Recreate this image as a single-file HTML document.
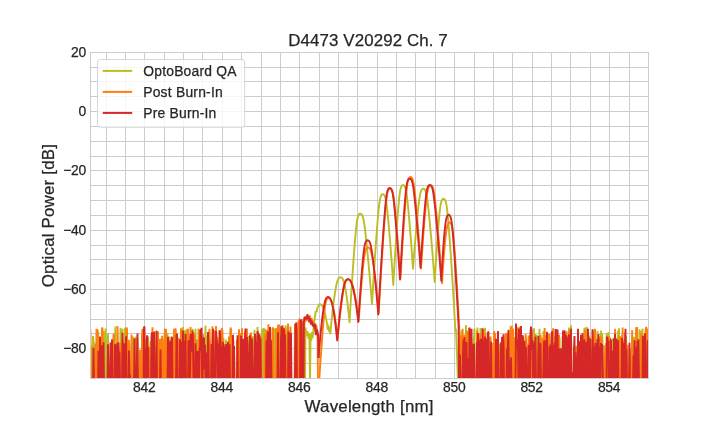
<!DOCTYPE html>
<html><head><meta charset="utf-8"><title>D4473 V20292 Ch. 7</title>
<style>
html,body{margin:0;padding:0;background:#fff;}
svg{display:block;}
text{font-family:"Liberation Sans",Arial,sans-serif;fill:#262626;stroke:#262626;stroke-width:0.25px;}
.t10{font-size:13.89px;}
.t12{font-size:16.9px;}
</style></head><body>
<svg width="720" height="432" viewBox="0 0 720 432">
<defs><clipPath id="ax"><rect x="90" y="52" width="558.5" height="326.4"/></clipPath></defs>
<rect width="720" height="432" fill="#fff"/>
<path d="M106.5 52.3V378.46M125.5 52.3V378.46M144.5 52.3V378.46M164.5 52.3V378.46M183.5 52.3V378.46M202.5 52.3V378.46M222.5 52.3V378.46M241.5 52.3V378.46M261.5 52.3V378.46M280.5 52.3V378.46M299.5 52.3V378.46M319.5 52.3V378.46M338.5 52.3V378.46M357.5 52.3V378.46M377.5 52.3V378.46M396.5 52.3V378.46M415.5 52.3V378.46M435.5 52.3V378.46M454.5 52.3V378.46M474.5 52.3V378.46M493.5 52.3V378.46M512.5 52.3V378.46M532.5 52.3V378.46M551.5 52.3V378.46M570.5 52.3V378.46M590.5 52.3V378.46M609.5 52.3V378.46M629.5 52.3V378.46M90.0 67.5H648.0M90.0 81.5H648.0M90.0 96.5H648.0M90.0 111.5H648.0M90.0 126.5H648.0M90.0 141.5H648.0M90.0 156.5H648.0M90.0 170.5H648.0M90.0 185.5H648.0M90.0 200.5H648.0M90.0 215.5H648.0M90.0 230.5H648.0M90.0 245.5H648.0M90.0 259.5H648.0M90.0 274.5H648.0M90.0 289.5H648.0M90.0 304.5H648.0M90.0 319.5H648.0M90.0 333.5H648.0M90.0 348.5H648.0M90.0 363.5H648.0" stroke="#cccccc" stroke-width="1" fill="none"/>
<g clip-path="url(#ax)" fill="none" stroke-width="1.9" stroke-linejoin="bevel" stroke-linecap="butt">
<path d="M88.00 384.46L88.50 384.46L89.00 384.46L89.50 342.19L90.00 342.02L90.50 384.46L91.00 345.62L91.50 384.46L92.00 384.46L92.50 384.46L93.00 336.03L93.50 340.88L94.00 345.76L94.50 384.46L95.00 384.46L95.50 384.46L96.00 384.46L96.50 384.46L97.00 384.46L97.50 384.46L98.00 331.70L98.50 337.21L99.00 384.46L99.50 336.41L100.00 344.18L100.50 384.46L101.00 384.46L101.50 384.46L102.00 384.46L102.50 384.46L103.00 384.46L103.50 331.23L104.00 348.51L104.50 376.13L105.00 384.46L105.50 328.57L106.00 384.46L106.50 344.12L107.00 384.46L107.50 344.43L108.00 333.25L108.50 384.46L109.00 384.46L109.50 384.46L110.00 384.46L110.50 384.46L111.00 343.26L111.50 384.46L112.00 384.46L112.50 384.46L113.00 384.46L113.50 384.46L114.00 364.55L114.50 384.46L115.00 335.69L115.50 326.48L116.00 384.46L116.50 384.46L117.00 384.46L117.50 384.46L118.00 384.46L118.50 384.46L119.00 384.46L119.50 346.82L120.00 384.46L120.50 327.82L121.00 384.46L121.50 332.16L122.00 384.46L122.50 328.73L123.00 384.46L123.50 340.30L124.00 384.46L124.50 384.46L125.00 327.84L125.50 384.46L126.00 384.46L126.50 384.46L127.00 384.46L127.50 338.98L128.00 354.86L128.50 384.46L129.00 384.46L129.50 344.37L130.00 384.46L130.50 384.46L131.00 384.46L131.50 384.46L132.00 384.46L132.50 341.74L133.00 336.54L133.50 384.46L134.00 384.46L134.50 384.46L135.00 343.79L135.50 384.46L136.00 336.83L136.50 384.46L137.00 337.42L137.50 341.45L138.00 384.46L138.50 384.46L139.00 384.46L139.50 384.46L140.00 384.46L140.50 384.46L141.00 384.46L141.50 384.46L142.00 384.46L142.50 384.46L143.00 384.46L143.50 384.46L144.00 334.94L144.50 384.46L145.00 339.20L145.50 384.46L146.00 384.46L146.50 338.06L147.00 384.46L147.50 384.46L148.00 344.99L148.50 384.46L149.00 384.46L149.50 384.46L150.00 384.46L150.50 341.01L151.00 350.64L151.50 384.46L152.00 334.26L152.50 384.46L153.00 384.46L153.50 384.46L154.00 384.46L154.50 331.34L155.00 384.46L155.50 384.46L156.00 384.46L156.50 384.46L157.00 384.46L157.50 384.46L158.00 384.46L158.50 384.46L159.00 384.46L159.50 384.46L160.00 384.46L160.50 384.46L161.00 347.12L161.50 384.46L162.00 384.46L162.50 384.46L163.00 338.81L163.50 384.46L164.00 384.46L164.50 384.46L165.00 384.46L165.50 384.46L166.00 384.46L166.50 384.46L167.00 338.35L167.50 333.13L168.00 366.40L168.50 384.46L169.00 384.46L169.50 336.47L170.00 384.46L170.50 384.46L171.00 384.46L171.50 384.46L172.00 368.66L172.50 384.46L173.00 384.46L173.50 384.46L174.00 384.46L174.50 336.47L175.00 333.77L175.50 384.46L176.00 384.46L176.50 384.46L177.00 384.46L177.50 352.78L178.00 384.46L178.50 384.46L179.00 384.46L179.50 384.46L180.00 384.46L180.50 347.58L181.00 356.52L181.50 336.98L182.00 332.03L182.50 331.00L183.00 327.02L183.50 384.46L184.00 333.74L184.50 384.46L185.00 330.23L185.50 384.46L186.00 336.36L186.50 329.34L187.00 384.46L187.50 384.46L188.00 384.46L188.50 384.46L189.00 384.46L189.50 336.28L190.00 384.46L190.50 343.22L191.00 384.46L191.50 384.46L192.00 384.46L192.50 328.72L193.00 384.46L193.50 342.84L194.00 333.56L194.50 384.46L195.00 384.46L195.50 328.74L196.00 384.46L196.50 384.46L197.00 339.58L197.50 384.46L198.00 384.46L198.50 328.59L199.00 384.46L199.50 384.46L200.00 384.46L200.50 362.77L201.00 384.46L201.50 384.46L202.00 384.46L202.50 384.46L203.00 338.66L203.50 384.46L204.00 384.46L204.50 384.46L205.00 356.99L205.50 325.63L206.00 384.46L206.50 335.59L207.00 384.46L207.50 384.46L208.00 384.46L208.50 343.30L209.00 384.46L209.50 384.46L210.00 342.21L210.50 384.46L211.00 346.71L211.50 384.46L212.00 384.46L212.50 384.46L213.00 384.46L213.50 384.46L214.00 338.54L214.50 366.88L215.00 342.66L215.50 384.46L216.00 343.65L216.50 384.46L217.00 384.46L217.50 341.54L218.00 338.67L218.50 384.46L219.00 340.86L219.50 347.89L220.00 343.75L220.50 338.86L221.00 384.46L221.50 328.98L222.00 336.89L222.50 384.46L223.00 384.46L223.50 337.79L224.00 384.46L224.50 384.46L225.00 384.46L225.50 384.46L226.00 339.83L226.50 384.46L227.00 384.46L227.50 384.46L228.00 384.46L228.50 384.46L229.00 336.18L229.50 384.46L230.00 384.46L230.50 331.00L231.00 338.59L231.50 384.46L232.00 384.46L232.50 384.46L233.00 358.35L233.50 340.54L234.00 384.46L234.50 384.46L235.00 384.46L235.50 384.46L236.00 384.46L236.50 384.46L237.00 384.46L237.50 384.46L238.00 384.46L238.50 345.01L239.00 384.46L239.50 384.46L240.00 384.46L240.50 384.46L241.00 384.46L241.50 384.46L242.00 339.77L242.50 384.46L243.00 384.46L243.50 384.46L244.00 384.46L244.50 384.46L245.00 384.46L245.50 384.46L246.00 384.46L246.50 384.46L247.00 352.90L247.50 384.46L248.00 384.46L248.50 336.02L249.00 384.46L249.50 384.46L250.00 384.46L250.50 352.70L251.00 335.75L251.50 384.46L252.00 337.55L252.50 336.37L253.00 384.46L253.50 384.46L254.00 384.46L254.50 329.70L255.00 384.46L255.50 335.56L256.00 384.46L256.50 341.67L257.00 384.46L257.50 326.90L258.00 337.88L258.50 332.96L259.00 384.46L259.50 384.46L260.00 344.97L260.50 384.46L261.00 384.46L261.50 384.46L262.00 329.04L262.50 384.46L263.00 341.40L263.50 327.92L264.00 333.68L264.50 384.46L265.00 328.81L265.50 336.60L266.00 384.46L266.50 384.46L267.00 341.15L267.50 384.46L268.00 384.46L268.50 384.46L269.00 384.46L269.50 384.46L270.00 384.46L270.50 384.46L271.00 384.46L271.50 384.46L272.00 384.46L272.50 339.17L273.00 338.14L273.50 339.08L274.00 384.46L274.50 384.46L275.00 328.34L275.50 384.46L276.00 328.31L276.50 384.46L277.00 384.46L277.50 384.46L278.00 331.38L278.50 384.46L279.00 384.46L279.50 341.29L280.00 326.46L280.50 384.46L281.00 384.46L281.50 384.46L282.00 384.46L282.50 384.46L283.00 384.46L283.50 384.46L284.00 384.46L284.50 384.46L285.00 384.46L285.50 325.28L286.00 384.46L286.50 327.30L287.00 384.46L287.50 384.46L288.00 384.46L288.50 384.46L289.00 330.03L289.50 384.46L290.00 331.08L290.50 384.46L291.00 384.46L291.50 384.46L292.00 384.46L292.50 384.46L293.00 384.46L293.50 384.46L294.00 384.46L294.50 384.46L295.00 384.46L295.50 384.46L296.00 384.46L296.50 384.46L297.00 384.46L297.50 327.43L298.00 384.46L298.50 384.46L299.00 329.14L299.50 384.46L300.00 370.81L300.50 384.46L301.00 384.46L301.50 384.46L302.00 384.46L302.50 384.46L303.00 384.46L303.50 327.70L304.00 384.46L304.50 384.46L305.00 384.46L305.50 327.45L306.50 336.00L307.50 331.00L308.50 339.00L309.30 333.00L310.00 384.46L310.60 334.00L311.30 341.00L312.00 332.00L312.70 338.00L313.40 330.00L314.20 322.00L315.00 316.00L315.80 311.00L316.60 312.00L317.40 308.00L318.00 307.00" stroke="#bcbd22" stroke-linejoin="bevel"/>
<path d="M318.00 307.00L318.50 305.50L319.00 304.61L319.50 304.24L319.70 304.20L320.20 304.24L320.70 304.40L321.20 304.70L321.70 305.18L322.20 305.84L322.70 306.72L323.20 307.83L323.70 309.17L324.20 310.75L324.70 312.57L325.20 314.62L325.70 316.91L326.20 319.44L326.70 322.22L327.00 324.00L327.60 329.00L328.30 325.50L329.00 331.00L329.60 328.00L330.20 333.50L330.40 333.00L330.90 327.48L331.40 322.24L331.90 317.29L332.40 312.61L332.90 308.19L333.40 304.05L333.90 300.17L334.40 296.55L334.90 293.20L335.40 290.13L335.90 287.35L336.40 284.89L336.90 282.79L337.40 281.07L337.90 279.74L338.40 278.76L338.90 278.07L339.40 277.64L339.90 277.40L340.40 277.31L340.50 277.30L341.00 277.36L341.50 277.58L342.00 278.01L342.50 278.67L343.00 279.62L343.50 280.87L344.00 282.46L344.50 284.41L345.00 286.70L345.50 289.32L346.00 292.28L346.50 295.55L347.00 299.16L347.50 303.09L348.00 307.35L348.50 311.96L349.00 316.90L349.50 322.20L350.00 313.73L350.50 305.48L351.00 297.43L351.50 289.59L352.00 281.95L352.50 274.51L353.00 267.28L353.50 260.26L354.00 253.46L354.50 246.91L355.00 240.68L355.50 234.84L356.00 229.53L356.50 224.94L357.00 221.21L357.50 218.40L358.00 216.45L358.50 215.18L359.00 214.41L359.50 213.96L360.00 213.74L360.20 213.70L360.70 213.81L361.20 214.05L361.70 214.50L362.20 215.24L362.70 216.41L363.20 218.16L363.70 220.55L364.20 223.60L364.70 227.20L365.20 231.23L365.70 235.58L366.20 240.16L366.70 244.93L367.20 249.85L367.70 254.92L368.20 260.13L368.70 265.48L369.20 270.95L369.70 276.57L370.20 282.32L370.70 288.22L371.20 294.25L371.70 300.43L372.00 304.20L372.50 295.72L373.00 287.44L373.50 279.37L374.00 271.51L374.50 263.85L375.00 256.38L375.50 249.12L376.00 242.07L376.50 235.24L377.00 228.65L377.50 222.36L378.00 216.44L378.50 211.02L379.00 206.27L379.50 202.36L380.00 199.38L380.50 197.28L381.00 195.89L381.50 195.03L382.00 194.53L382.50 194.27L382.80 194.20L383.30 194.33L383.80 194.63L384.30 195.17L384.80 196.08L385.30 197.51L385.80 199.62L386.30 202.52L386.80 206.20L387.30 210.55L387.80 215.42L388.30 220.68L388.80 226.23L389.30 232.01L389.80 238.01L390.30 244.18L390.80 250.54L391.30 257.07L391.80 263.79L392.30 270.68L392.80 277.75L393.30 285.00L393.80 276.17L394.30 267.57L394.80 259.21L395.30 251.08L395.80 243.19L396.30 235.54L396.80 228.14L397.30 221.03L397.80 214.26L398.30 207.93L398.80 202.19L399.30 197.21L399.80 193.17L400.30 190.13L400.80 188.01L401.30 186.62L401.80 185.77L402.30 185.29L402.80 185.05L403.00 185.00L403.50 185.13L404.00 185.43L404.50 185.98L405.00 186.89L405.50 188.32L406.00 190.43L406.50 193.33L407.00 197.00L407.50 201.35L408.00 206.22L408.50 211.47L409.00 217.02L409.50 222.82L410.00 228.82L410.50 235.02L411.00 241.41L411.50 247.98L412.00 254.73L412.50 261.67L413.00 268.80L413.50 262.08L414.00 255.55L414.50 249.23L415.00 243.09L415.50 237.15L416.00 231.40L416.50 225.84L417.00 220.49L417.50 215.36L418.00 210.48L418.50 205.91L419.00 201.74L419.50 198.09L420.00 195.09L420.50 192.78L421.00 191.14L421.50 190.04L422.00 189.36L422.50 188.96L423.00 188.76L423.30 188.70L423.80 188.82L424.30 189.08L424.80 189.57L425.30 190.38L425.80 191.66L426.30 193.56L426.80 196.17L427.30 199.48L427.80 203.40L428.30 207.79L428.80 212.52L429.30 217.51L429.80 222.70L430.30 228.08L430.80 233.61L431.30 239.29L431.80 245.13L432.30 251.12L432.80 257.26L433.30 263.55L433.80 270.00L434.30 276.60L434.70 282.00L435.20 273.61L435.70 265.47L436.20 257.59L436.70 249.95L437.20 242.59L437.70 235.51L438.20 228.78L438.70 222.46L439.20 216.70L439.70 211.65L440.20 207.49L440.70 204.31L441.20 202.04L441.70 200.54L442.20 199.60L442.70 199.05L443.20 198.78L443.50 198.70L444.00 198.86L444.50 199.21L445.00 199.85L445.50 200.92L446.00 202.61L446.50 205.13L447.00 208.58L447.50 212.98L448.00 218.18L448.50 223.99L449.00 230.26L449.50 236.87L450.00 243.75L450.50 250.85L451.00 258.16L451.50 265.67L452.00 273.37L452.50 281.27L453.00 289.37L453.50 297.66L454.00 306.14L454.50 314.84L455.00 323.73L455.40 331.00L455.40 331.00L456.00 329.50L457.30 362.00L458.00 384.46" stroke="#bcbd22" stroke-linejoin="round"/>
<path d="M458.00 384.46L458.50 384.46L459.00 384.46L459.50 384.46L460.00 340.19L460.50 384.46L461.00 384.46L461.50 330.40L462.00 384.46L462.50 339.14L463.00 384.46L463.50 384.46L464.00 356.94L464.50 335.76L465.00 384.46L465.50 384.46L466.00 324.98L466.50 384.46L467.00 384.46L467.50 337.92L468.00 333.46L468.50 384.46L469.00 328.09L469.50 384.46L470.00 384.46L470.50 342.96L471.00 384.46L471.50 384.46L472.00 384.46L472.50 343.02L473.00 384.46L473.50 339.49L474.00 336.44L474.50 328.46L475.00 384.46L475.50 384.46L476.00 384.46L476.50 384.46L477.00 384.46L477.50 327.49L478.00 384.46L478.50 384.46L479.00 384.46L479.50 384.46L480.00 384.46L480.50 328.11L481.00 384.46L481.50 338.14L482.00 384.46L482.50 384.46L483.00 384.46L483.50 384.46L484.00 384.46L484.50 384.46L485.00 327.72L485.50 384.46L486.00 337.90L486.50 341.32L487.00 384.46L487.50 384.46L488.00 384.46L488.50 336.01L489.00 384.46L489.50 346.54L490.00 338.03L490.50 384.46L491.00 384.46L491.50 384.46L492.00 384.46L492.50 384.46L493.00 384.46L493.50 384.46L494.00 384.46L494.50 384.46L495.00 384.46L495.50 384.46L496.00 384.46L496.50 384.46L497.00 384.46L497.50 384.46L498.00 384.46L498.50 384.46L499.00 384.46L499.50 343.66L500.00 384.46L500.50 384.46L501.00 346.50L501.50 384.46L502.00 384.46L502.50 343.44L503.00 384.46L503.50 384.46L504.00 384.46L504.50 384.46L505.00 384.46L505.50 341.18L506.00 384.46L506.50 384.46L507.00 384.46L507.50 333.60L508.00 384.46L508.50 384.46L509.00 384.46L509.50 384.46L510.00 384.46L510.50 330.92L511.00 357.57L511.50 384.46L512.00 325.52L512.50 384.46L513.00 384.46L513.50 384.46L514.00 336.94L514.50 384.46L515.00 384.46L515.50 384.46L516.00 384.46L516.50 384.46L517.00 384.46L517.50 384.46L518.00 373.19L518.50 384.46L519.00 384.46L519.50 326.54L520.00 384.46L520.50 384.46L521.00 342.06L521.50 384.46L522.00 384.46L522.50 384.46L523.00 384.46L523.50 339.23L524.00 384.46L524.50 384.46L525.00 384.46L525.50 384.46L526.00 384.46L526.50 384.46L527.00 384.46L527.50 384.46L528.00 384.46L528.50 384.46L529.00 384.46L529.50 384.46L530.00 335.30L530.50 384.46L531.00 384.46L531.50 384.46L532.00 343.04L532.50 384.46L533.00 384.46L533.50 331.24L534.00 328.36L534.50 384.46L535.00 384.46L535.50 333.96L536.00 384.46L536.50 343.40L537.00 335.34L537.50 384.46L538.00 384.46L538.50 384.46L539.00 384.46L539.50 328.78L540.00 384.46L540.50 384.46L541.00 384.46L541.50 384.46L542.00 384.46L542.50 384.46L543.00 384.46L543.50 331.27L544.00 353.99L544.50 384.46L545.00 338.97L545.50 384.46L546.00 384.46L546.50 339.41L547.00 384.46L547.50 384.46L548.00 334.74L548.50 344.71L549.00 384.46L549.50 384.46L550.00 384.46L550.50 384.46L551.00 384.46L551.50 384.46L552.00 337.67L552.50 384.46L553.00 338.82L553.50 341.74L554.00 384.46L554.50 335.60L555.00 384.46L555.50 384.46L556.00 384.46L556.50 384.46L557.00 384.46L557.50 384.46L558.00 384.46L558.50 384.46L559.00 384.46L559.50 337.39L560.00 384.46L560.50 384.46L561.00 384.46L561.50 384.46L562.00 384.46L562.50 336.17L563.00 384.46L563.50 337.91L564.00 335.52L564.50 337.32L565.00 332.63L565.50 384.46L566.00 334.28L566.50 341.05L567.00 384.46L567.50 384.46L568.00 384.46L568.50 384.46L569.00 327.63L569.50 384.46L570.00 332.10L570.50 339.02L571.00 325.33L571.50 384.46L572.00 384.46L572.50 384.46L573.00 384.46L573.50 384.46L574.00 384.46L574.50 384.46L575.00 384.46L575.50 346.51L576.00 346.75L576.50 384.46L577.00 384.46L577.50 384.46L578.00 350.95L578.50 384.46L579.00 384.46L579.50 384.46L580.00 384.46L580.50 384.46L581.00 384.46L581.50 384.46L582.00 384.46L582.50 374.99L583.00 384.46L583.50 384.46L584.00 333.99L584.50 327.68L585.00 384.46L585.50 339.45L586.00 384.46L586.50 327.23L587.00 328.07L587.50 384.46L588.00 344.94L588.50 384.46L589.00 337.80L589.50 335.46L590.00 384.46L590.50 384.46L591.00 338.99L591.50 384.46L592.00 384.46L592.50 384.46L593.00 384.46L593.50 339.33L594.00 330.03L594.50 370.13L595.00 384.46L595.50 344.50L596.00 384.46L596.50 384.46L597.00 343.90L597.50 331.02L598.00 384.46L598.50 384.46L599.00 343.06L599.50 384.46L600.00 342.14L600.50 384.46L601.00 330.57L601.50 384.46L602.00 333.20L602.50 339.25L603.00 384.46L603.50 384.46L604.00 384.46L604.50 384.46L605.00 384.46L605.50 359.22L606.00 384.46L606.50 334.82L607.00 333.50L607.50 384.46L608.00 347.64L608.50 332.04L609.00 384.46L609.50 384.46L610.00 384.46L610.50 384.46L611.00 355.08L611.50 384.46L612.00 384.46L612.50 384.46L613.00 337.94L613.50 384.46L614.00 384.46L614.50 384.46L615.00 384.46L615.50 384.46L616.00 384.46L616.50 337.73L617.00 384.46L617.50 384.46L618.00 330.82L618.50 384.46L619.00 328.36L619.50 384.46L620.00 384.46L620.50 336.21L621.00 384.46L621.50 384.46L622.00 334.73L622.50 384.46L623.00 384.46L623.50 384.46L624.00 384.46L624.50 384.46L625.00 384.46L625.50 384.46L626.00 336.03L626.50 348.52L627.00 384.46L627.50 384.46L628.00 384.46L628.50 384.46L629.00 384.46L629.50 384.46L630.00 384.46L630.50 384.46L631.00 384.46L631.50 384.46L632.00 384.46L632.50 340.45L633.00 342.19L633.50 360.26L634.00 336.79L634.50 384.46L635.00 384.46L635.50 384.46L636.00 384.46L636.50 347.52L637.00 384.46L637.50 384.46L638.00 384.46L638.50 384.46L639.00 384.46L639.50 329.14L640.00 384.46L640.50 384.46L641.00 384.46L641.50 330.81L642.00 384.46L642.50 328.52L643.00 384.46L643.50 334.92L644.00 384.46L644.50 384.46L645.00 384.46L645.50 384.46L646.00 384.46L646.50 384.46L647.00 384.46L647.50 384.46L648.00 384.46L648.50 384.46L649.00 384.46L649.50 384.46" stroke="#bcbd22" stroke-linejoin="bevel"/>
<path d="M88.00 333.06L88.50 361.89L89.00 384.46L89.50 384.46L90.00 328.12L90.50 332.85L91.00 384.46L91.50 384.46L92.00 384.46L92.50 384.46L93.00 384.46L93.50 384.46L94.00 384.46L94.50 384.46L95.00 384.46L95.50 343.39L96.00 384.46L96.50 328.88L97.00 384.46L97.50 329.26L98.00 384.46L98.50 384.46L99.00 384.46L99.50 384.46L100.00 384.46L100.50 384.46L101.00 384.46L101.50 384.46L102.00 327.87L102.50 328.24L103.00 384.46L103.50 384.46L104.00 384.46L104.50 384.46L105.00 384.46L105.50 384.46L106.00 384.46L106.50 384.46L107.00 384.46L107.50 384.46L108.00 384.46L108.50 384.46L109.00 384.46L109.50 384.46L110.00 384.46L110.50 384.46L111.00 384.46L111.50 384.46L112.00 384.46L112.50 384.46L113.00 384.46L113.50 334.96L114.00 334.04L114.50 384.46L115.00 384.46L115.50 384.46L116.00 384.46L116.50 384.46L117.00 384.46L117.50 325.90L118.00 348.77L118.50 384.46L119.00 384.46L119.50 384.46L120.00 350.09L120.50 384.46L121.00 342.51L121.50 384.46L122.00 384.46L122.50 340.00L123.00 384.46L123.50 384.46L124.00 384.46L124.50 344.13L125.00 384.46L125.50 384.46L126.00 384.46L126.50 327.38L127.00 329.22L127.50 384.46L128.00 346.03L128.50 340.27L129.00 341.30L129.50 384.46L130.00 384.46L130.50 384.46L131.00 384.46L131.50 334.54L132.00 384.46L132.50 384.46L133.00 384.46L133.50 384.46L134.00 384.46L134.50 337.67L135.00 384.46L135.50 384.46L136.00 384.46L136.50 384.46L137.00 384.46L137.50 384.46L138.00 384.46L138.50 384.46L139.00 384.46L139.50 384.46L140.00 349.67L140.50 384.46L141.00 384.46L141.50 384.46L142.00 334.47L142.50 328.73L143.00 384.46L143.50 384.46L144.00 338.48L144.50 384.46L145.00 345.67L145.50 384.46L146.00 384.46L146.50 384.46L147.00 384.46L147.50 384.46L148.00 336.55L148.50 384.46L149.00 384.46L149.50 346.90L150.00 384.46L150.50 384.46L151.00 384.46L151.50 384.46L152.00 340.71L152.50 327.37L153.00 384.46L153.50 384.46L154.00 384.46L154.50 384.46L155.00 384.46L155.50 384.46L156.00 384.46L156.50 347.68L157.00 384.46L157.50 335.65L158.00 331.17L158.50 384.46L159.00 384.46L159.50 342.00L160.00 338.87L160.50 341.03L161.00 384.46L161.50 384.46L162.00 335.72L162.50 384.46L163.00 384.46L163.50 349.84L164.00 384.46L164.50 337.43L165.00 328.76L165.50 384.46L166.00 328.74L166.50 384.46L167.00 384.46L167.50 384.46L168.00 338.43L168.50 384.46L169.00 343.07L169.50 384.46L170.00 384.46L170.50 384.46L171.00 384.46L171.50 384.46L172.00 384.46L172.50 384.46L173.00 338.73L173.50 384.46L174.00 328.84L174.50 384.46L175.00 340.99L175.50 328.40L176.00 334.39L176.50 384.46L177.00 333.97L177.50 384.46L178.00 354.44L178.50 338.05L179.00 345.78L179.50 384.46L180.00 348.74L180.50 384.46L181.00 328.19L181.50 384.46L182.00 384.46L182.50 340.24L183.00 384.46L183.50 334.89L184.00 384.46L184.50 341.00L185.00 384.46L185.50 384.46L186.00 344.41L186.50 333.63L187.00 384.46L187.50 336.65L188.00 328.65L188.50 354.46L189.00 384.46L189.50 384.46L190.00 384.46L190.50 327.08L191.00 355.12L191.50 384.46L192.00 344.72L192.50 384.46L193.00 384.46L193.50 332.57L194.00 384.46L194.50 349.47L195.00 334.56L195.50 384.46L196.00 339.39L196.50 384.46L197.00 384.46L197.50 384.46L198.00 384.46L198.50 384.46L199.00 329.97L199.50 384.46L200.00 384.46L200.50 342.32L201.00 340.96L201.50 384.46L202.00 344.45L202.50 350.60L203.00 334.23L203.50 384.46L204.00 384.46L204.50 384.46L205.00 384.46L205.50 384.46L206.00 384.46L206.50 384.46L207.00 384.46L207.50 384.46L208.00 384.46L208.50 384.46L209.00 335.76L209.50 328.87L210.00 347.97L210.50 384.46L211.00 384.46L211.50 384.46L212.00 350.50L212.50 326.39L213.00 384.46L213.50 384.46L214.00 342.26L214.50 330.31L215.00 384.46L215.50 384.46L216.00 326.12L216.50 340.08L217.00 337.12L217.50 384.46L218.00 384.46L218.50 384.46L219.00 384.46L219.50 384.46L220.00 334.50L220.50 384.46L221.00 384.46L221.50 384.46L222.00 328.07L222.50 331.88L223.00 384.46L223.50 384.46L224.00 384.46L224.50 384.46L225.00 344.04L225.50 384.46L226.00 347.46L226.50 384.46L227.00 384.46L227.50 384.46L228.00 384.46L228.50 384.46L229.00 337.38L229.50 384.46L230.00 384.46L230.50 327.62L231.00 329.34L231.50 384.46L232.00 384.46L232.50 384.46L233.00 384.46L233.50 384.46L234.00 384.46L234.50 384.46L235.00 384.46L235.50 384.46L236.00 384.46L236.50 384.46L237.00 339.66L237.50 384.46L238.00 384.46L238.50 384.46L239.00 329.35L239.50 341.94L240.00 384.46L240.50 384.46L241.00 333.27L241.50 384.46L242.00 328.22L242.50 384.46L243.00 384.46L243.50 344.90L244.00 384.46L244.50 342.27L245.00 384.46L245.50 331.66L246.00 384.46L246.50 344.37L247.00 328.46L247.50 384.46L248.00 344.32L248.50 384.46L249.00 384.46L249.50 384.46L250.00 334.48L250.50 384.46L251.00 332.59L251.50 384.46L252.00 384.46L252.50 384.46L253.00 384.46L253.50 384.46L254.00 384.46L254.50 384.46L255.00 334.23L255.50 384.46L256.00 384.46L256.50 337.11L257.00 384.46L257.50 384.46L258.00 384.46L258.50 384.46L259.00 384.46L259.50 384.46L260.00 384.46L260.50 384.46L261.00 336.82L261.50 384.46L262.00 384.46L262.50 384.46L263.00 384.46L263.50 384.46L264.00 384.46L264.50 384.46L265.00 333.83L265.50 384.46L266.00 384.46L266.50 329.93L267.00 384.46L267.50 384.46L268.00 334.21L268.50 324.26L269.00 384.46L269.50 384.46L270.00 384.46L270.50 384.46L271.00 384.46L271.50 384.46L272.00 384.46L272.50 327.91L273.00 327.97L273.50 384.46L274.00 384.46L274.50 384.46L275.00 384.46L275.50 384.46L276.00 384.46L276.50 328.19L277.00 356.16L277.50 384.46L278.00 324.74L278.50 384.46L279.00 324.40L279.50 384.46L280.00 384.46L280.50 384.46L281.00 384.46L281.50 384.46L282.00 384.46L282.50 325.07L283.00 384.46L283.50 384.46L284.00 384.46L284.50 330.73L285.00 333.16L285.50 330.46L286.00 384.46L286.50 384.46L287.00 384.46L287.50 384.46L288.00 323.44L288.50 384.46L289.00 384.46L289.50 384.46L290.00 384.46L290.50 326.53L291.00 384.46L291.50 384.46L292.00 384.46L292.50 384.46L293.00 384.46L293.50 384.46L294.00 384.46L294.50 384.46L295.00 324.14L295.50 325.61L296.00 384.46L296.50 384.46L297.00 384.46L297.50 384.46L298.00 384.46L298.50 320.50L299.00 384.46L299.50 318.50L300.00 384.46L300.50 384.46L301.00 384.46L301.50 384.46L302.00 384.46L302.50 384.46L303.20 321.31L303.80 384.46L304.40 319.35L305.00 322.06L305.60 316.17L306.20 317.59L306.80 321.05L307.40 315.53L308.00 318.83L308.60 319.75L309.20 318.88L309.80 315.33L310.40 322.19L311.00 320.21L311.60 317.87L312.20 323.23L312.80 320.40L313.40 324.74L314.00 325.64L314.60 326.39L315.20 330.55L315.80 332.44L316.40 325.34L317.00 331.47L317.60 339.04L318.00 384.46" stroke="#ff7f0e" stroke-linejoin="bevel"/>
<path d="M318.00 384.46L318.50 384.46L319.00 383.72L319.50 375.89L320.00 368.26L320.50 360.84L321.00 353.62L321.50 346.61L322.00 339.81L322.50 333.26L323.00 326.99L323.50 321.06L324.00 315.61L324.50 310.79L325.00 306.76L325.50 303.64L326.00 301.40L326.50 299.90L327.00 298.96L327.50 298.40L328.00 298.11L328.40 298.00L328.90 298.05L329.40 298.25L329.90 298.62L330.40 299.20L330.90 300.02L331.40 301.11L331.90 302.48L332.40 304.14L332.90 306.10L333.40 308.35L333.90 310.90L334.40 313.73L334.90 316.86L335.40 320.28L335.90 324.00L336.40 328.04L336.90 332.38L337.40 337.04L337.60 339.00L338.10 333.52L338.60 328.30L339.10 323.33L339.60 318.60L340.10 314.11L340.60 309.87L341.10 305.86L341.60 302.08L342.10 298.55L342.60 295.25L343.10 292.21L343.60 289.44L344.10 286.98L344.60 284.88L345.10 283.17L345.60 281.86L346.10 280.90L346.60 280.25L347.10 279.83L347.60 279.60L348.10 279.51L348.20 279.50L348.70 279.54L349.20 279.69L349.70 279.97L350.20 280.41L350.70 281.03L351.20 281.85L351.70 282.89L352.20 284.15L352.70 285.63L353.20 287.34L353.70 289.27L354.20 291.41L354.70 293.77L355.20 296.36L355.70 299.17L356.20 302.21L356.70 305.48L357.20 309.00L357.70 312.75L358.20 316.75L358.70 321.00L359.20 313.64L359.70 306.56L360.20 299.78L360.70 293.27L361.20 287.06L361.70 281.13L362.20 275.52L362.70 270.24L363.20 265.36L363.70 260.96L364.20 257.17L364.70 254.06L365.20 251.69L365.70 249.99L366.20 248.85L366.70 248.13L367.20 247.72L367.70 247.53L367.90 247.50L368.40 247.58L368.90 247.79L369.40 248.18L369.90 248.82L370.40 249.77L370.90 251.12L371.40 252.92L371.90 255.16L372.40 257.81L372.90 260.81L373.40 264.09L373.90 267.63L374.40 271.41L374.90 275.40L375.40 279.61L375.90 284.05L376.40 288.70L376.90 293.57L377.40 298.67L377.90 303.99L378.40 309.55L378.70 313.00L379.20 303.90L379.70 295.02L380.20 286.36L380.70 277.90L381.20 269.66L381.70 261.62L382.20 253.78L382.70 246.15L383.20 238.74L383.70 231.55L384.20 224.61L384.70 217.98L385.20 211.73L385.70 206.02L386.20 201.01L386.70 196.89L387.20 193.75L387.70 191.53L388.20 190.07L388.70 189.17L389.20 188.65L389.70 188.38L390.00 188.30L390.50 188.43L391.00 188.73L391.50 189.29L392.00 190.21L392.50 191.66L393.00 193.80L393.50 196.74L394.00 200.48L394.50 204.89L395.00 209.83L395.50 215.17L396.00 220.80L396.50 226.67L397.00 232.76L397.50 239.03L398.00 245.48L398.50 252.12L399.00 258.94L399.50 265.94L400.00 273.12L400.40 279.00L400.90 270.34L401.40 261.90L401.90 253.68L402.40 245.69L402.90 237.92L403.40 230.38L403.90 223.07L404.40 216.01L404.90 209.25L405.40 202.84L405.90 196.92L406.40 191.62L406.90 187.14L407.40 183.61L407.90 181.04L408.40 179.30L408.90 178.19L409.40 177.52L409.90 177.16L410.40 177.00L410.90 177.13L411.40 177.42L411.90 177.96L412.40 178.86L412.90 180.28L413.40 182.38L413.90 185.25L414.40 188.90L414.90 193.22L415.40 198.05L415.90 203.27L416.40 208.78L416.90 214.52L417.40 220.46L417.90 226.58L418.40 232.89L418.90 239.37L419.40 246.02L419.90 252.85L420.40 259.85L420.90 267.04L421.00 268.50L421.50 261.01L422.00 253.73L422.50 246.66L423.00 239.79L423.50 233.13L424.00 226.68L424.50 220.46L425.00 214.50L425.50 208.84L426.00 203.58L426.50 198.84L427.00 194.79L427.50 191.54L428.00 189.14L428.50 187.48L429.00 186.40L429.50 185.75L430.00 185.39L430.50 185.22L430.60 185.20L431.10 185.33L431.60 185.60L432.10 186.11L432.60 186.97L433.10 188.31L433.60 190.31L434.10 193.05L434.60 196.54L435.10 200.66L435.60 205.27L436.10 210.25L436.60 215.49L437.10 220.95L437.60 226.60L438.10 232.42L438.60 238.40L439.10 244.53L439.60 250.83L440.10 257.28L440.60 263.90L441.10 270.68L441.60 277.62L442.00 283.30L442.50 275.20L443.00 267.60L443.50 260.49L444.00 253.90L444.50 247.83L445.00 242.33L445.50 237.45L446.00 233.29L446.50 229.89L447.00 227.26L447.50 225.34L448.00 224.01L448.50 223.16L449.00 222.69L449.50 222.51L449.60 222.50L450.10 222.68L450.60 223.07L451.10 223.81L451.60 225.03L452.10 226.95L452.60 229.77L453.10 233.64L453.60 238.55L454.10 244.36L454.60 250.86L455.10 257.89L455.60 265.32L456.10 273.07L456.60 281.10L457.10 289.40L457.60 297.95L458.10 306.75L458.60 315.81L459.10 325.11L459.20 327.00L459.20 327.00" stroke="#ff7f0e" stroke-linejoin="round"/>
<path d="M459.20 327.00L459.60 339.78L460.10 384.46L460.60 384.46L461.10 335.44L461.60 384.46L462.10 384.46L462.60 328.79L463.10 384.46L463.60 384.46L464.10 334.78L464.60 384.46L465.10 341.97L465.60 354.54L466.10 384.46L466.60 335.27L467.10 330.80L467.60 384.46L468.10 337.65L468.60 339.00L469.10 345.47L469.60 329.93L470.10 334.36L470.60 384.46L471.10 384.46L471.60 384.46L472.10 384.46L472.60 384.46L473.10 384.46L473.60 384.46L474.10 384.46L474.60 384.46L475.10 384.46L475.60 384.46L476.10 384.46L476.60 384.46L477.10 330.53L477.60 384.46L478.10 384.46L478.60 384.46L479.10 384.46L479.60 384.46L480.10 333.85L480.60 384.46L481.10 384.46L481.60 340.19L482.10 384.46L482.60 384.46L483.10 328.66L483.60 384.46L484.10 343.72L484.60 339.69L485.10 338.31L485.60 333.13L486.10 384.46L486.60 384.46L487.10 384.46L487.60 347.23L488.10 384.46L488.60 384.46L489.10 351.07L489.60 384.46L490.10 352.92L490.60 336.45L491.10 384.46L491.60 384.46L492.10 384.46L492.60 384.46L493.10 343.09L493.60 384.46L494.10 330.92L494.60 341.95L495.10 333.06L495.60 384.46L496.10 349.93L496.60 384.46L497.10 384.46L497.60 384.46L498.10 384.46L498.60 351.56L499.10 384.46L499.60 384.46L500.10 384.46L500.60 347.50L501.10 359.40L501.60 384.46L502.10 340.11L502.60 384.46L503.10 384.46L503.60 384.46L504.10 384.46L504.60 384.46L505.10 344.78L505.60 333.61L506.10 384.46L506.60 332.90L507.10 346.26L507.60 384.46L508.10 384.46L508.60 384.46L509.10 384.46L509.60 384.46L510.10 384.46L510.60 326.26L511.10 384.46L511.60 344.44L512.10 384.46L512.60 331.16L513.10 328.68L513.60 384.46L514.10 346.73L514.60 384.46L515.10 338.52L515.60 384.46L516.10 335.43L516.60 384.46L517.10 384.46L517.60 327.21L518.10 363.00L518.60 341.22L519.10 335.11L519.60 384.46L520.10 384.46L520.60 384.46L521.10 384.46L521.60 384.46L522.10 346.98L522.60 337.54L523.10 384.46L523.60 384.46L524.10 384.46L524.60 384.46L525.10 384.46L525.60 334.38L526.10 339.53L526.60 384.46L527.10 384.46L527.60 384.46L528.10 384.46L528.60 335.44L529.10 339.59L529.60 339.54L530.10 384.46L530.60 344.08L531.10 384.46L531.60 346.15L532.10 384.46L532.60 384.46L533.10 384.46L533.60 384.46L534.10 384.46L534.60 344.59L535.10 334.87L535.60 384.46L536.10 384.46L536.60 384.46L537.10 384.46L537.60 384.46L538.10 347.98L538.60 384.46L539.10 384.46L539.60 384.46L540.10 384.46L540.60 334.83L541.10 384.46L541.60 384.46L542.10 384.46L542.60 337.68L543.10 384.46L543.60 384.46L544.10 384.46L544.60 328.10L545.10 384.46L545.60 335.39L546.10 338.01L546.60 384.46L547.10 384.46L547.60 384.46L548.10 384.46L548.60 384.46L549.10 333.61L549.60 345.75L550.10 384.46L550.60 384.46L551.10 348.35L551.60 384.46L552.10 384.46L552.60 345.87L553.10 328.36L553.60 384.46L554.10 384.46L554.60 384.46L555.10 344.69L555.60 384.46L556.10 384.46L556.60 371.58L557.10 329.82L557.60 350.03L558.10 384.46L558.60 384.46L559.10 334.79L559.60 384.46L560.10 384.46L560.60 384.46L561.10 384.46L561.60 384.46L562.10 384.46L562.60 384.46L563.10 384.46L563.60 384.46L564.10 384.46L564.60 384.46L565.10 384.46L565.60 384.46L566.10 384.46L566.60 331.15L567.10 384.46L567.60 384.46L568.10 384.46L568.60 384.46L569.10 330.19L569.60 384.46L570.10 384.46L570.60 384.46L571.10 384.46L571.60 384.46L572.10 384.46L572.60 384.46L573.10 384.46L573.60 384.46L574.10 384.46L574.60 384.46L575.10 384.46L575.60 384.46L576.10 384.46L576.60 384.46L577.10 346.33L577.60 350.07L578.10 347.31L578.60 384.46L579.10 384.46L579.60 384.46L580.10 384.46L580.60 339.76L581.10 384.46L581.60 384.46L582.10 384.46L582.60 384.46L583.10 384.46L583.60 340.16L584.10 384.46L584.60 384.46L585.10 331.62L585.60 329.55L586.10 384.46L586.60 384.46L587.10 384.46L587.60 384.46L588.10 384.46L588.60 384.46L589.10 384.46L589.60 337.14L590.10 384.46L590.60 384.46L591.10 353.11L591.60 384.46L592.10 345.63L592.60 384.46L593.10 335.06L593.60 384.46L594.10 384.46L594.60 336.20L595.10 328.86L595.60 384.46L596.10 384.46L596.60 342.81L597.10 384.46L597.60 384.46L598.10 336.95L598.60 384.46L599.10 336.69L599.60 384.46L600.10 384.46L600.60 339.73L601.10 336.49L601.60 342.70L602.10 384.46L602.60 384.46L603.10 384.46L603.60 384.46L604.10 384.46L604.60 384.46L605.10 345.21L605.60 384.46L606.10 342.93L606.60 384.46L607.10 341.16L607.60 344.35L608.10 384.46L608.60 384.46L609.10 335.92L609.60 384.46L610.10 337.40L610.60 384.46L611.10 384.46L611.60 384.46L612.10 384.46L612.60 384.46L613.10 384.46L613.60 384.46L614.10 340.92L614.60 364.75L615.10 328.78L615.60 384.46L616.10 384.46L616.60 384.46L617.10 345.00L617.60 384.46L618.10 384.46L618.60 384.46L619.10 338.88L619.60 336.67L620.10 338.09L620.60 384.46L621.10 384.46L621.60 338.44L622.10 384.46L622.60 327.49L623.10 384.46L623.60 339.99L624.10 384.46L624.60 384.46L625.10 332.48L625.60 384.46L626.10 384.46L626.60 384.46L627.10 384.46L627.60 344.73L628.10 384.46L628.60 384.46L629.10 384.46L629.60 384.46L630.10 384.46L630.60 384.46L631.10 348.56L631.60 384.46L632.10 330.29L632.60 384.46L633.10 384.46L633.60 384.46L634.10 384.46L634.60 384.46L635.10 339.40L635.60 384.46L636.10 327.35L636.60 384.46L637.10 327.08L637.60 384.46L638.10 343.77L638.60 384.46L639.10 384.46L639.60 372.56L640.10 384.46L640.60 384.46L641.10 333.15L641.60 384.46L642.10 333.64L642.60 384.46L643.10 384.46L643.60 384.46L644.10 384.46L644.60 351.75L645.10 384.46L645.60 329.70L646.10 326.94L646.60 328.75L647.10 384.46L647.60 328.88L648.10 384.46L648.60 340.04L649.10 384.46L649.60 384.46" stroke="#ff7f0e" stroke-linejoin="bevel"/>
<path d="M88.00 345.49L88.50 384.46L89.00 384.46L89.50 384.46L90.00 384.46L90.50 384.46L91.00 384.46L91.50 384.46L92.00 384.46L92.50 384.46L93.00 384.46L93.50 347.77L94.00 384.46L94.50 384.46L95.00 384.46L95.50 384.46L96.00 384.46L96.50 384.46L97.00 384.46L97.50 384.46L98.00 384.46L98.50 350.84L99.00 384.46L99.50 384.46L100.00 336.65L100.50 384.46L101.00 384.46L101.50 345.25L102.00 384.46L102.50 384.46L103.00 384.46L103.50 342.31L104.00 384.46L104.50 384.46L105.00 384.46L105.50 384.46L106.00 384.46L106.50 384.46L107.00 384.46L107.50 384.46L108.00 344.17L108.50 384.46L109.00 384.46L109.50 384.46L110.00 384.46L110.50 342.51L111.00 384.46L111.50 384.46L112.00 339.26L112.50 384.46L113.00 384.46L113.50 384.46L114.00 384.46L114.50 384.46L115.00 344.47L115.50 345.07L116.00 384.46L116.50 384.46L117.00 357.49L117.50 342.81L118.00 384.46L118.50 342.42L119.00 384.46L119.50 352.25L120.00 384.46L120.50 384.46L121.00 384.46L121.50 384.46L122.00 384.46L122.50 332.67L123.00 384.46L123.50 382.81L124.00 343.29L124.50 384.46L125.00 384.46L125.50 384.46L126.00 336.23L126.50 384.46L127.00 384.46L127.50 384.46L128.00 384.46L128.50 384.46L129.00 350.46L129.50 384.46L130.00 374.80L130.50 384.46L131.00 384.46L131.50 384.46L132.00 384.46L132.50 384.46L133.00 384.46L133.50 384.46L134.00 384.46L134.50 338.76L135.00 384.46L135.50 368.57L136.00 384.46L136.50 384.46L137.00 352.87L137.50 333.58L138.00 384.46L138.50 384.46L139.00 384.46L139.50 384.46L140.00 384.46L140.50 384.46L141.00 384.46L141.50 384.46L142.00 384.46L142.50 384.46L143.00 384.46L143.50 384.46L144.00 326.71L144.50 327.06L145.00 384.46L145.50 348.33L146.00 384.46L146.50 384.46L147.00 335.27L147.50 384.46L148.00 346.86L148.50 384.46L149.00 384.46L149.50 384.46L150.00 384.46L150.50 384.46L151.00 384.46L151.50 335.92L152.00 332.34L152.50 384.46L153.00 381.41L153.50 384.46L154.00 331.77L154.50 384.46L155.00 384.46L155.50 384.46L156.00 384.46L156.50 330.72L157.00 384.46L157.50 384.46L158.00 384.46L158.50 384.46L159.00 384.46L159.50 384.46L160.00 384.46L160.50 349.45L161.00 384.46L161.50 384.46L162.00 384.46L162.50 384.46L163.00 384.46L163.50 384.46L164.00 384.46L164.50 384.46L165.00 384.46L165.50 384.46L166.00 384.46L166.50 384.46L167.00 384.46L167.50 384.46L168.00 336.69L168.50 384.46L169.00 384.46L169.50 384.46L170.00 342.37L170.50 341.04L171.00 384.46L171.50 339.13L172.00 336.68L172.50 384.46L173.00 384.46L173.50 384.46L174.00 384.46L174.50 384.46L175.00 384.46L175.50 384.46L176.00 384.46L176.50 335.71L177.00 333.80L177.50 384.46L178.00 384.46L178.50 384.46L179.00 384.46L179.50 384.46L180.00 339.34L180.50 346.09L181.00 341.98L181.50 384.46L182.00 384.46L182.50 357.93L183.00 330.59L183.50 384.46L184.00 341.13L184.50 355.14L185.00 384.46L185.50 333.77L186.00 384.46L186.50 384.46L187.00 384.46L187.50 384.46L188.00 384.46L188.50 340.26L189.00 342.48L189.50 384.46L190.00 384.46L190.50 333.92L191.00 340.57L191.50 340.13L192.00 351.69L192.50 330.46L193.00 340.50L193.50 384.46L194.00 384.46L194.50 384.46L195.00 384.46L195.50 343.32L196.00 384.46L196.50 384.46L197.00 384.46L197.50 351.12L198.00 384.46L198.50 384.46L199.00 384.46L199.50 348.24L200.00 350.56L200.50 329.02L201.00 351.19L201.50 327.73L202.00 384.46L202.50 384.46L203.00 337.20L203.50 351.48L204.00 337.61L204.50 369.53L205.00 344.88L205.50 384.46L206.00 352.61L206.50 384.46L207.00 384.46L207.50 384.46L208.00 332.10L208.50 349.09L209.00 384.46L209.50 384.46L210.00 384.46L210.50 384.46L211.00 384.46L211.50 344.00L212.00 384.46L212.50 384.46L213.00 328.87L213.50 384.46L214.00 384.46L214.50 384.46L215.00 379.75L215.50 341.98L216.00 331.02L216.50 339.30L217.00 342.82L217.50 384.46L218.00 384.46L218.50 343.65L219.00 384.46L219.50 330.22L220.00 332.26L220.50 343.48L221.00 384.46L221.50 346.49L222.00 352.64L222.50 384.46L223.00 341.74L223.50 384.46L224.00 346.66L224.50 384.46L225.00 384.46L225.50 346.08L226.00 344.14L226.50 384.46L227.00 384.46L227.50 384.46L228.00 341.68L228.50 384.46L229.00 384.46L229.50 344.37L230.00 384.46L230.50 384.46L231.00 384.46L231.50 384.46L232.00 384.46L232.50 384.46L233.00 334.88L233.50 384.46L234.00 346.00L234.50 384.46L235.00 384.46L235.50 384.46L236.00 384.46L236.50 384.46L237.00 384.46L237.50 335.38L238.00 384.46L238.50 384.46L239.00 384.46L239.50 384.46L240.00 384.46L240.50 384.46L241.00 335.65L241.50 384.46L242.00 384.46L242.50 384.46L243.00 338.80L243.50 384.46L244.00 384.46L244.50 384.46L245.00 334.90L245.50 328.58L246.00 384.46L246.50 384.46L247.00 337.17L247.50 343.21L248.00 384.46L248.50 351.82L249.00 384.46L249.50 384.46L250.00 335.19L250.50 343.46L251.00 384.46L251.50 341.89L252.00 338.61L252.50 384.46L253.00 384.46L253.50 384.46L254.00 384.46L254.50 355.91L255.00 333.88L255.50 384.46L256.00 384.46L256.50 341.77L257.00 384.46L257.50 331.34L258.00 333.15L258.50 384.46L259.00 384.46L259.50 334.29L260.00 342.97L260.50 339.07L261.00 382.83L261.50 384.46L262.00 384.46L262.50 384.46L263.00 384.46L263.50 384.46L264.00 384.46L264.50 384.46L265.00 384.46L265.50 384.46L266.00 384.46L266.50 340.49L267.00 384.46L267.50 338.54L268.00 331.40L268.50 384.46L269.00 384.46L269.50 384.46L270.00 327.07L270.50 384.46L271.00 340.21L271.50 384.46L272.00 384.46L272.50 384.46L273.00 384.46L273.50 384.46L274.00 384.46L274.50 384.46L275.00 384.46L275.50 384.46L276.00 384.46L276.50 384.46L277.00 384.46L277.50 384.46L278.00 332.28L278.50 384.46L279.00 384.46L279.50 384.46L280.00 384.46L280.50 384.46L281.00 337.48L281.50 325.92L282.00 384.46L282.50 326.72L283.00 384.46L283.50 329.97L284.00 328.23L284.50 384.46L285.00 334.48L285.50 384.46L286.00 384.46L286.50 384.46L287.00 384.46L287.50 384.46L288.00 384.46L288.50 331.62L289.00 384.46L289.50 384.46L290.00 384.46L290.50 333.31L291.00 333.52L291.50 384.46L292.00 384.46L292.50 384.46L293.00 384.46L293.50 384.46L294.00 384.46L294.50 384.46L295.00 384.46L295.50 323.82L296.00 324.07L296.50 322.46L297.00 384.46L297.50 384.46L298.00 384.46L298.50 384.46L299.00 384.46L299.50 384.46L300.00 384.46L300.50 319.42L301.00 384.46L301.50 319.26L302.00 384.46L302.50 384.46L303.00 384.46L303.50 384.46L303.80 323.00L304.40 316.97L305.00 317.83L305.60 319.70L306.20 317.00L306.80 319.20L307.40 314.06L308.00 317.10L308.60 316.01L309.20 322.29L309.80 318.67L310.40 319.45L311.00 324.65L311.60 320.73L312.20 323.08L312.80 326.07L313.40 325.77L314.00 323.69L314.60 328.82L315.20 323.60L315.80 334.95L316.40 331.86L317.00 329.40L317.60 331.86L318.20 336.15L318.50 358.00" stroke="#d62728" stroke-linejoin="bevel"/>
<path d="M318.50 358.00L319.00 351.72L319.50 345.74L320.00 340.08L320.50 334.72L321.00 329.66L321.50 324.91L322.00 320.45L322.50 316.30L323.00 312.49L323.50 309.03L324.00 305.98L324.50 303.39L325.00 301.31L325.50 299.73L326.00 298.59L326.50 297.82L327.00 297.34L327.50 297.09L328.00 297.00L328.50 297.06L329.00 297.26L329.50 297.66L330.00 298.27L330.50 299.14L331.00 300.30L331.50 301.76L332.00 303.54L332.50 305.64L333.00 308.05L333.50 310.76L334.00 313.78L334.50 317.10L335.00 320.73L335.50 324.67L336.00 328.94L336.50 333.52L337.00 338.44L337.20 340.50L337.70 334.92L338.20 329.58L338.70 324.50L339.20 319.66L339.70 315.05L340.20 310.69L340.70 306.56L341.20 302.66L341.70 299.00L342.20 295.58L342.70 292.41L343.20 289.53L343.70 286.97L344.20 284.78L344.70 283.00L345.20 281.63L345.70 280.64L346.20 279.97L346.70 279.54L347.20 279.30L347.70 279.21L347.80 279.20L348.30 279.24L348.80 279.39L349.30 279.68L349.80 280.13L350.30 280.77L350.80 281.62L351.30 282.70L351.80 284.01L352.30 285.55L352.80 287.32L353.30 289.32L353.80 291.54L354.30 293.98L354.80 296.65L355.30 299.55L355.80 302.68L356.30 306.05L356.80 309.67L357.30 313.53L357.80 317.64L358.30 322.00L358.80 314.17L359.30 306.58L359.80 299.23L360.30 292.11L360.80 285.24L361.30 278.63L361.80 272.29L362.30 266.27L362.80 260.67L363.30 255.59L363.80 251.19L364.30 247.61L364.80 244.91L365.30 243.02L365.80 241.77L366.30 240.99L366.80 240.55L367.30 240.34L367.50 240.30L368.00 240.40L368.50 240.63L369.00 241.06L369.50 241.78L370.00 242.88L370.50 244.46L371.00 246.60L371.50 249.30L372.00 252.49L372.50 256.07L373.00 259.98L373.50 264.14L374.00 268.52L374.50 273.12L375.00 277.91L375.50 282.90L376.00 288.08L376.50 293.46L377.00 299.04L377.50 304.82L378.00 310.81L378.30 314.50L378.80 305.37L379.30 296.46L379.80 287.76L380.30 279.27L380.80 270.99L381.30 262.91L381.80 255.04L382.30 247.37L382.80 239.91L383.30 232.68L383.80 225.68L384.30 218.98L384.80 212.65L385.30 206.82L385.80 201.65L386.30 197.34L386.80 194.00L387.30 191.61L387.80 190.01L388.30 189.02L388.80 188.43L389.30 188.12L389.70 188.00L390.20 188.14L390.70 188.45L391.20 189.01L391.70 189.96L392.20 191.45L392.70 193.64L393.20 196.66L393.70 200.48L394.20 205.01L394.70 210.07L395.20 215.54L395.70 221.32L396.20 227.34L396.70 233.57L397.20 240.00L397.70 246.63L398.20 253.43L398.70 260.43L399.20 267.61L399.70 274.98L400.00 279.50L400.50 270.47L401.00 261.68L401.50 253.13L402.00 244.83L402.50 236.77L403.00 228.96L403.50 221.41L404.00 214.18L404.50 207.31L405.00 200.92L405.50 195.16L406.00 190.23L406.50 186.29L407.00 183.36L407.50 181.35L408.00 180.05L408.50 179.27L409.00 178.83L409.50 178.62L409.60 178.60L410.10 178.72L410.60 178.99L411.10 179.49L411.60 180.33L412.10 181.65L412.60 183.60L413.10 186.28L413.60 189.69L414.10 193.71L414.60 198.21L415.10 203.07L415.60 208.20L416.10 213.55L416.60 219.07L417.10 224.77L417.60 230.63L418.10 236.65L418.60 242.83L419.10 249.17L419.60 255.68L420.10 262.35L420.50 267.80L421.00 259.91L421.50 252.26L422.00 244.83L422.50 237.64L423.00 230.68L423.50 223.97L424.00 217.53L424.50 211.42L425.00 205.71L425.50 200.54L426.00 196.06L426.50 192.41L427.00 189.67L427.50 187.74L428.00 186.48L428.50 185.70L429.00 185.26L429.50 185.04L429.70 185.00L430.20 185.12L430.70 185.38L431.20 185.87L431.70 186.68L432.20 187.96L432.70 189.85L433.20 192.46L433.70 195.77L434.20 199.69L434.70 204.07L435.20 208.79L435.70 213.78L436.20 218.96L436.70 224.32L437.20 229.84L437.70 235.51L438.20 241.33L438.70 247.30L439.20 253.42L439.70 259.69L440.20 266.12L440.70 272.70L441.20 279.43L441.30 280.80L441.80 271.71L442.30 263.15L442.80 255.12L443.30 247.66L443.80 240.82L444.30 234.66L444.80 229.31L445.30 224.86L445.80 221.37L446.30 218.79L446.80 216.98L447.30 215.80L447.80 215.10L448.30 214.77L448.60 214.70L449.10 214.88L449.60 215.27L450.10 215.99L450.60 217.21L451.10 219.11L451.60 221.92L452.10 225.77L452.60 230.65L453.10 236.43L453.60 242.90L454.10 249.89L454.60 257.27L455.10 264.97L455.60 272.94L456.10 281.18L456.60 289.65L457.10 298.37L457.60 307.34L458.10 316.55L458.60 326.00L458.60 326.00" stroke="#d62728" stroke-linejoin="round"/>
<path d="M458.60 326.00L459.00 384.46L459.50 384.46L460.00 354.63L460.50 384.46L461.00 384.46L461.50 384.46L462.00 384.46L462.50 384.46L463.00 353.72L463.50 339.59L464.00 384.46L464.50 337.10L465.00 348.64L465.50 384.46L466.00 350.10L466.50 341.92L467.00 384.46L467.50 384.46L468.00 384.46L468.50 358.04L469.00 384.46L469.50 327.49L470.00 384.46L470.50 384.46L471.00 384.46L471.50 328.78L472.00 384.46L472.50 384.46L473.00 384.46L473.50 345.57L474.00 343.72L474.50 384.46L475.00 384.46L475.50 384.46L476.00 384.46L476.50 384.46L477.00 342.38L477.50 351.22L478.00 333.04L478.50 384.46L479.00 384.46L479.50 340.54L480.00 384.46L480.50 338.68L481.00 384.46L481.50 348.13L482.00 384.46L482.50 328.36L483.00 384.46L483.50 384.46L484.00 347.43L484.50 342.86L485.00 336.68L485.50 384.46L486.00 384.46L486.50 384.46L487.00 338.96L487.50 384.46L488.00 332.05L488.50 332.03L489.00 384.46L489.50 384.46L490.00 384.46L490.50 384.46L491.00 341.54L491.50 384.46L492.00 384.46L492.50 384.46L493.00 384.46L493.50 384.46L494.00 384.46L494.50 384.46L495.00 384.46L495.50 384.46L496.00 338.88L496.50 384.46L497.00 384.46L497.50 384.46L498.00 330.91L498.50 384.46L499.00 384.46L499.50 384.46L500.00 384.46L500.50 384.46L501.00 342.18L501.50 384.46L502.00 336.81L502.50 384.46L503.00 384.46L503.50 334.20L504.00 384.46L504.50 384.46L505.00 384.46L505.50 384.46L506.00 384.46L506.50 384.46L507.00 348.55L507.50 384.46L508.00 340.12L508.50 329.90L509.00 384.46L509.50 360.43L510.00 384.46L510.50 384.46L511.00 357.19L511.50 384.46L512.00 384.46L512.50 384.46L513.00 384.46L513.50 384.46L514.00 384.46L514.50 384.46L515.00 384.46L515.50 384.46L516.00 323.44L516.50 338.45L517.00 343.16L517.50 339.60L518.00 349.05L518.50 384.46L519.00 328.60L519.50 384.46L520.00 332.63L520.50 384.46L521.00 326.01L521.50 384.46L522.00 384.46L522.50 335.23L523.00 337.27L523.50 384.46L524.00 347.69L524.50 341.00L525.00 384.46L525.50 348.25L526.00 347.16L526.50 384.46L527.00 384.46L527.50 384.46L528.00 384.46L528.50 344.66L529.00 384.46L529.50 384.46L530.00 384.46L530.50 331.82L531.00 326.60L531.50 330.60L532.00 349.87L532.50 339.92L533.00 384.46L533.50 384.46L534.00 384.46L534.50 342.20L535.00 384.46L535.50 336.78L536.00 384.46L536.50 384.46L537.00 384.46L537.50 384.46L538.00 384.46L538.50 335.64L539.00 384.46L539.50 384.46L540.00 342.99L540.50 344.81L541.00 384.46L541.50 384.46L542.00 384.46L542.50 377.64L543.00 384.46L543.50 366.27L544.00 340.76L544.50 384.46L545.00 340.20L545.50 359.71L546.00 384.46L546.50 384.46L547.00 331.69L547.50 384.46L548.00 384.46L548.50 384.46L549.00 384.46L549.50 346.62L550.00 384.46L550.50 344.49L551.00 384.46L551.50 336.36L552.00 331.31L552.50 384.46L553.00 345.31L553.50 384.46L554.00 384.46L554.50 342.87L555.00 384.46L555.50 329.10L556.00 336.94L556.50 339.73L557.00 384.46L557.50 329.47L558.00 384.46L558.50 384.46L559.00 384.46L559.50 348.59L560.00 384.46L560.50 384.46L561.00 384.46L561.50 348.33L562.00 384.46L562.50 384.46L563.00 330.50L563.50 384.46L564.00 336.74L564.50 330.25L565.00 338.47L565.50 384.46L566.00 384.46L566.50 335.34L567.00 384.46L567.50 384.46L568.00 337.57L568.50 384.46L569.00 334.26L569.50 384.46L570.00 352.96L570.50 347.60L571.00 328.69L571.50 384.46L572.00 384.46L572.50 384.46L573.00 372.08L573.50 384.46L574.00 348.88L574.50 336.01L575.00 384.46L575.50 352.31L576.00 362.88L576.50 384.46L577.00 384.46L577.50 384.46L578.00 328.71L578.50 384.46L579.00 341.30L579.50 384.46L580.00 384.46L580.50 384.46L581.00 334.66L581.50 384.46L582.00 384.46L582.50 333.25L583.00 384.46L583.50 384.46L584.00 384.46L584.50 339.49L585.00 384.46L585.50 384.46L586.00 378.57L586.50 342.04L587.00 384.46L587.50 384.46L588.00 328.72L588.50 384.46L589.00 384.46L589.50 340.80L590.00 338.41L590.50 384.46L591.00 384.46L591.50 384.46L592.00 384.46L592.50 329.20L593.00 349.39L593.50 384.46L594.00 384.46L594.50 346.66L595.00 384.46L595.50 343.11L596.00 384.46L596.50 384.46L597.00 384.46L597.50 339.06L598.00 384.46L598.50 334.10L599.00 384.46L599.50 384.46L600.00 346.39L600.50 384.46L601.00 343.10L601.50 346.59L602.00 344.27L602.50 346.25L603.00 384.46L603.50 384.46L604.00 384.46L604.50 384.46L605.00 384.46L605.50 384.46L606.00 384.46L606.50 384.46L607.00 336.63L607.50 338.74L608.00 343.02L608.50 340.87L609.00 384.46L609.50 384.46L610.00 384.46L610.50 384.46L611.00 339.17L611.50 384.46L612.00 384.46L612.50 350.75L613.00 384.46L613.50 384.46L614.00 338.41L614.50 384.46L615.00 333.70L615.50 384.46L616.00 384.46L616.50 339.03L617.00 384.46L617.50 351.26L618.00 340.20L618.50 384.46L619.00 384.46L619.50 384.46L620.00 384.46L620.50 384.46L621.00 384.46L621.50 384.46L622.00 337.74L622.50 384.46L623.00 384.46L623.50 384.46L624.00 342.62L624.50 384.46L625.00 343.35L625.50 328.86L626.00 384.46L626.50 349.36L627.00 384.46L627.50 384.46L628.00 378.45L628.50 384.46L629.00 384.46L629.50 342.67L630.00 384.46L630.50 384.46L631.00 384.46L631.50 384.46L632.00 384.46L632.50 384.46L633.00 384.46L633.50 355.34L634.00 384.46L634.50 340.20L635.00 384.46L635.50 384.46L636.00 384.46L636.50 347.18L637.00 384.46L637.50 340.89L638.00 384.46L638.50 339.26L639.00 384.46L639.50 384.46L640.00 384.46L640.50 384.46L641.00 384.46L641.50 384.46L642.00 384.46L642.50 384.46L643.00 335.91L643.50 384.46L644.00 347.11L644.50 384.46L645.00 333.26L645.50 384.46L646.00 384.46L646.50 384.46L647.00 384.46L647.50 343.59L648.00 340.10L648.50 351.47L649.00 384.46L649.50 347.27" stroke="#d62728" stroke-linejoin="bevel"/>
</g>
<path d="M90.5 52V378.5M648.5 52V378.5M90 52.5H649M90 378.5H649" stroke="#cccccc" stroke-width="1" fill="none"/>
<rect x="97.5" y="59.5" width="147.2" height="67.8" rx="2.8" ry="2.8" fill="#fff" fill-opacity="0.8" stroke="#cccccc" stroke-opacity="0.8" stroke-width="1"/>
<path d="M102.7 70.9H132.2" stroke="#bcbd22" stroke-width="2"/>
<text x="143.2" y="75.7" class="t10" style="letter-spacing:0.22px">OptoBoard QA</text>
<path d="M102.7 91.9H132.2" stroke="#ff7f0e" stroke-width="2"/>
<text x="143.2" y="96.7" class="t10" style="letter-spacing:0.22px">Post Burn-In</text>
<path d="M102.7 112.9H132.2" stroke="#d62728" stroke-width="2"/>
<text x="143.2" y="117.7" class="t10" style="letter-spacing:0.22px">Pre Burn-In</text>
<text x="144.2" y="391.5" class="t10" style="letter-spacing:-0.25px" text-anchor="middle">842</text>
<text x="221.7" y="391.5" class="t10" style="letter-spacing:-0.25px" text-anchor="middle">844</text>
<text x="299.2" y="391.5" class="t10" style="letter-spacing:-0.25px" text-anchor="middle">846</text>
<text x="376.7" y="391.5" class="t10" style="letter-spacing:-0.25px" text-anchor="middle">848</text>
<text x="454.2" y="391.5" class="t10" style="letter-spacing:-0.25px" text-anchor="middle">850</text>
<text x="531.6" y="391.5" class="t10" style="letter-spacing:-0.25px" text-anchor="middle">852</text>
<text x="609.1" y="391.5" class="t10" style="letter-spacing:-0.25px" text-anchor="middle">854</text>
<text x="85.9" y="56.6" class="t10" style="letter-spacing:-0.3px" text-anchor="end">20</text>
<text x="85.9" y="115.9" class="t10" style="letter-spacing:-0.3px" text-anchor="end">0</text>
<text x="85.9" y="175.2" class="t10" style="letter-spacing:-0.3px" text-anchor="end">−20</text>
<text x="85.9" y="234.5" class="t10" style="letter-spacing:-0.3px" text-anchor="end">−40</text>
<text x="85.9" y="293.8" class="t10" style="letter-spacing:-0.3px" text-anchor="end">−60</text>
<text x="85.9" y="353.1" class="t10" style="letter-spacing:-0.3px" text-anchor="end">−80</text>
<text x="368.1" y="45.8" class="t12" style="letter-spacing:0.1px" text-anchor="middle">D4473 V20292 Ch. 7</text>
<text x="369.1" y="411.6" class="t12" style="letter-spacing:0.2px" text-anchor="middle">Wavelength [nm]</text>
<text transform="translate(53.8 215.6) rotate(-90)" class="t12" style="letter-spacing:0.19px" text-anchor="middle">Optical Power [dB]</text>
</svg>
</body></html>
